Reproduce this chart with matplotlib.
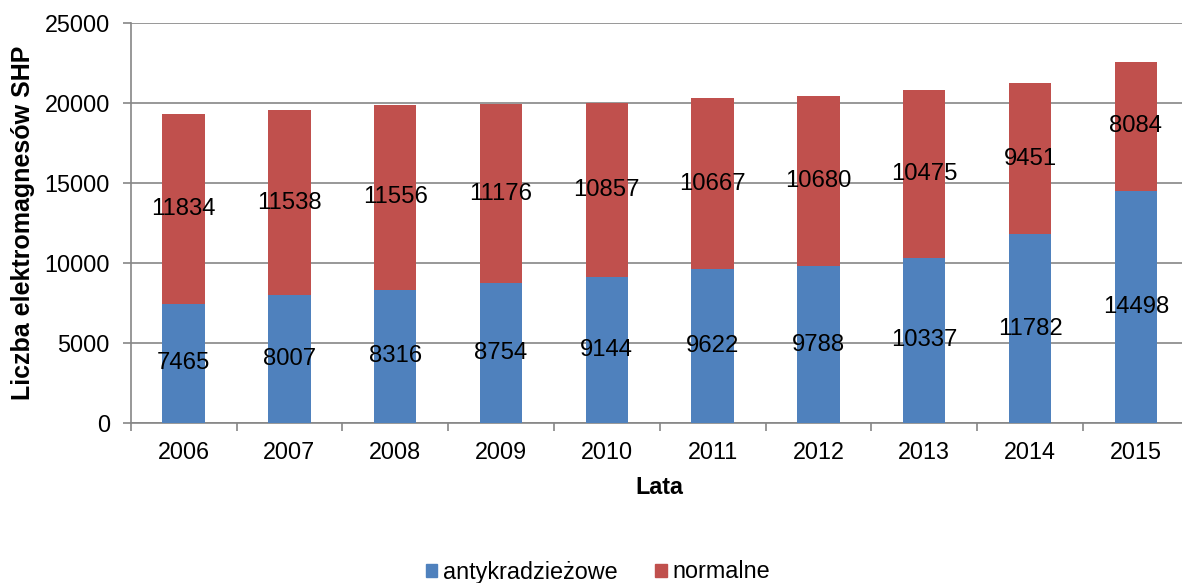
import matplotlib
matplotlib.use("Agg")
import matplotlib.pyplot as plt
import numpy as np
from matplotlib.patches import Patch

plt.rcParams['font.family'] = ['Liberation Sans', 'DejaVu Sans']

years = ['2006', '2007', '2008', '2009', '2010', '2011', '2012', '2013', '2014', '2015']
antykradziezowe = [7465, 8007, 8316, 8754, 9144, 9622, 9788, 10337, 11782, 14498]
normalne = [11834, 11538, 11556, 11176, 10857, 10667, 10680, 10475, 9451, 8084]
series_names = ['antykradzieżowe', 'normalne']
blue = '#4F81BD'
red = '#C0504D'
grid_c = '#868686'
FS = 16.8

fig = plt.figure(figsize=(11.82, 5.83), dpi=100)
ax = fig.add_axes([130.7/1182, 1-423/583, 1058/1182, 400/583])

x = np.arange(len(years))
ax.bar(x, antykradziezowe, width=0.4, color=blue, zorder=3)
ax.bar(x, normalne, width=0.4, bottom=antykradziezowe, color=red, zorder=3)

for xi, a, n in zip(x, antykradziezowe, normalne):
    ax.text(xi, a/2, str(a), ha='center', va='center', fontsize=17.2, zorder=4)
    ax.text(xi, a + n/2, str(n), ha='center', va='center', fontsize=17.2, zorder=4)

ax.set_xlim(-0.5, len(years)-0.5)
ax.set_ylim(0, 25000)
ax.set_yticks(np.arange(0, 25001, 5000))
ax.yaxis.grid(True, color=grid_c, linewidth=1.2, zorder=0)
ax.set_axisbelow(True)

ax.set_xticks(x)
ax.set_xticklabels(years)
ax.set_xticks(np.arange(-0.5, len(years), 1), minor=True)
ax.tick_params(axis='x', which='major', length=0, pad=13, labelsize=FS)
ax.tick_params(axis='x', which='minor', length=6, width=1.2, color=grid_c, direction='out')
ax.tick_params(axis='y', length=6, width=1.2, color=grid_c, pad=9, labelsize=FS)

for s in ['top', 'right']:
    ax.spines[s].set_visible(False)
for s in ['left', 'bottom']:
    ax.spines[s].set_color(grid_c)
    ax.spines[s].set_linewidth(1.2)

ax.set_xlabel('Lata', fontsize=FS, fontweight='bold', labelpad=8.5)
ax.set_ylabel('Liczba elektromagnesów SHP', fontsize=18, fontweight='bold', labelpad=7)

handles = [Patch(color=blue), Patch(color=red)]
fig.legend(handles, series_names, loc='center', bbox_to_anchor=(598/1182, 1-572/583),
           ncol=2, frameon=False, fontsize=FS, handlelength=0.5, handleheight=0.5,
           handletextpad=0.25, columnspacing=1.6, borderpad=0)

fig.savefig('out.png', dpi=100)
